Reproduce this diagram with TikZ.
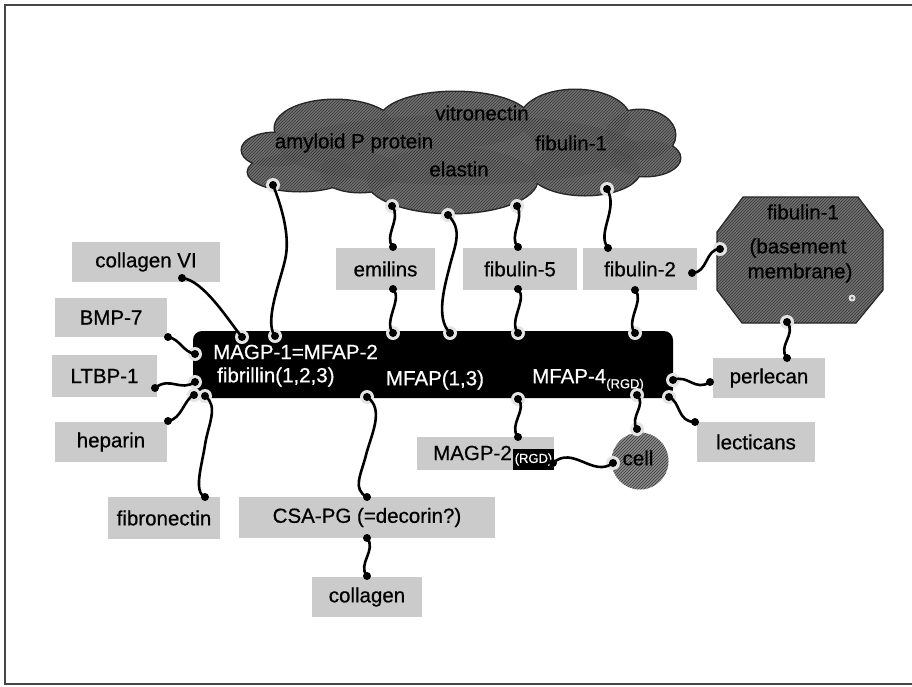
\documentclass[tikz,border=0pt]{standalone}
\usepackage{fontspec}
\setmainfont{Liberation Sans}[FakeBold=0.6]
\newfontfamily\heavyfont{Liberation Sans}[FakeBold=0.6]
\usetikzlibrary{patterns}
\definecolor{boxgray}{RGB}{203,203,203}
\definecolor{cloudgray}{RGB}{112,112,112}
\definecolor{cellgray}{RGB}{140,140,140}
\definecolor{hatchgray}{RGB}{55,55,55}
\definecolor{halogray}{RGB}{228,228,228}
\definecolor{framegray}{RGB}{70,70,70}
\newcommand{\bfs}{\heavyfont\fontsize{20.5}{24}\selectfont}
\newcommand{\sfs}{\heavyfont\fontsize{13}{14}\selectfont}
\begin{document}
\begin{tikzpicture}[x=1pt,y=-1pt,
  box/.style={fill=boxgray, inner sep=0pt, font=\bfs},
  txt/.style={inner sep=0pt, font=\bfs},
  wtxt/.style={inner sep=0pt, font=\bfs, text=white},
  conn/.style={line width=2.6pt},
  hatch/.style={preaction={fill=cloudgray}, pattern=north east lines, pattern color=hatchgray},
  cellhatch/.style={preaction={fill=cellgray}, pattern=north east lines, pattern color=hatchgray},
]
\useasboundingbox (0,0) rectangle (912,686);
\fill[white] (0,0) rectangle (912,686);
% frame
\draw[framegray, line width=1.5pt] (912,5) -- (5,5) -- (5,684) -- (912,684);

% cloud
\def\cloudlist{275/150/33/17, 300/172/52/19, 335/128/60/28, 455/120/75/28, 575/120/55/30, 640/135/35/25, 645/158/35/18, 585/170/55/25, 452/180/85/33, 360/172/40/20, 460/150/180/35}
\foreach \cx/\cy/\ra/\rb in \cloudlist {
  \draw[black!85, line width=3pt] (\cx,\cy) ellipse ({\ra} and {\rb});
}
\foreach \cx/\cy/\ra/\rb in \cloudlist {
  \fill[cloudgray] (\cx,\cy) ellipse ({\ra} and {\rb});
}
\foreach \cx/\cy/\ra/\rb in \cloudlist {
  \fill[pattern=north east lines, pattern color=hatchgray] (\cx,\cy) ellipse ({\ra} and {\rb});
}
\node[txt] (vitro) at (482,113) {vitronectin};
\node[txt] (amyl) at (354,143) {amyloid P protein};
\node[txt] (fibone) at (571,143) {fibulin-1};
\node[txt] (elast) at (459,169) {elastin};

% octagon
\draw[hatch, draw=black!85, line width=1.2pt] (743,197) -- (858,197) -- (883,230) -- (883,290) -- (856,323) -- (742,323) -- (717,290) -- (717,232) -- cycle;
\node[txt] (octa) at (803,212) {fibulin-1};
\node[txt] (octb) at (798,248) {(basement};
\node[txt] (octc) at (800,273) {membrane)};
\fill[halogray] (852,298) circle (3.5);
\fill[cloudgray] (852,298) circle (1.5);

% bar
\node[fill=black, rounded corners=9pt, minimum width=480pt, minimum height=67pt, inner sep=0pt] (bar) at (433,364.5) {};
\node[wtxt, anchor=west] (magpone) at (213,352) {MAGP-1=MFAP-2};
\node[wtxt, anchor=west] (fibrl) at (217,377) {fibrillin(1,2,3)};
\node[wtxt] (mfap) at (435,380) {MFAP(1,3)};
\node[wtxt, anchor=west] (mfapfour) at (532,380) {MFAP-4\raisebox{-5pt}{\sfs(RGD)}};

% boxes
\node[box, minimum width=148pt, minimum height=40pt] (colVI) at (146,262) {collagen VI};
\node[box, minimum width=112pt, minimum height=39pt] (bmp) at (111,317.5) {BMP-7};
\node[box, minimum width=105pt, minimum height=42pt] (ltbp) at (104.5,376) {LTBP-1};
\node[box, minimum width=112pt, minimum height=40pt] (hep) at (111,442) {heparin};
\node[box, minimum width=112pt, minimum height=42pt] (fn) at (164,518) {fibronectin};
\node[box, minimum width=256pt, minimum height=41pt] (csa) at (367,517.5) {CSA-PG (=decorin?)};
\node[box, minimum width=110pt, minimum height=40pt] (coll) at (367,597) {collagen};
\node[box, minimum width=99pt, minimum height=42pt] (emil) at (385.5,269) {emilins};
\node[box, minimum width=114pt, minimum height=42pt] (fibfive) at (520,269) {fibulin-5};
\node[box, minimum width=114pt, minimum height=42pt] (fibtwo) at (640,269) {fibulin-2};
\node[box, minimum width=112pt, minimum height=40pt] (perl) at (769,378) {perlecan};
\node[box, minimum width=118pt, minimum height=40pt] (lect) at (756,442) {lecticans};
\node[box, minimum width=137pt, minimum height=33pt] (magptwo) at (485.5,453.5) {};
\node[txt, anchor=west] (magptxt) at (433,453) {MAGP-2};
\node[fill=black, text=white, font=\sfs, minimum width=41pt, minimum height=21pt, inner sep=0pt] (rgd) at (533.5,459.5) {(RGD)};

% cell
\node[circle, cellhatch, minimum size=57pt, inner sep=0pt] (cell) at (640,461) {};
\node[txt, text=black] (celltxt) at (638,458) {cell};

% dot coordinates
\coordinate (cA) at (273,185);   \coordinate (bA) at (275,336);
\coordinate (bC6) at (242,337);  \coordinate (pC6) at (182,278);
\coordinate (pB7) at (168,337);  \coordinate (bB7) at (195,354);
\coordinate (pLT) at (155,388);  \coordinate (bLT) at (195,382);
\coordinate (pHe) at (168,421);  \coordinate (bHe) at (194,395);
\coordinate (bFn) at (205,396);  \coordinate (pFn) at (205,497);
\coordinate (cEm) at (392,206);  \coordinate (pEmT) at (393,247);
\coordinate (pEmB) at (393,289); \coordinate (bEm) at (393,333);
\coordinate (cEl) at (448,215);  \coordinate (bEl) at (450,333);
\coordinate (cF5) at (517,206);  \coordinate (pF5T) at (518,247);
\coordinate (pF5B) at (518,289); \coordinate (bF5) at (518,333);
\coordinate (cF2) at (607,189);  \coordinate (pF2T) at (608,248);
\coordinate (pF2B) at (635,290); \coordinate (bF2) at (635,333);
\coordinate (pF2R) at (692,273); \coordinate (oL) at (720,249);
\coordinate (oB) at (787,322);   \coordinate (pPeT) at (787,358);
\coordinate (pPeL) at (710,382); \coordinate (bPe) at (673,380);
\coordinate (pLe) at (695,422);  \coordinate (bLe) at (669,397);
\coordinate (bCe) at (637,395);  \coordinate (ceT) at (637,429);
\coordinate (bMa) at (518,399);  \coordinate (pMaT) at (518,437);
\coordinate (pMaR) at (553,463); \coordinate (ceL) at (613,463);
\coordinate (bCs) at (367,397);  \coordinate (pCsT) at (367,497);
\coordinate (pCsB) at (367,538); \coordinate (pCoT) at (367,576);

% halos
\foreach \p in {cA,bA,bC6,bB7,bLT,bHe,bFn,cEm,bEm,cEl,bEl,cF5,bF5,cF2,bF2,oL,oB,bPe,bLe,bCe,ceT,bMa,ceL,bCs}
  \fill[halogray] (\p) circle (7);

% connectors
\draw[conn] (cA) .. controls +(10,25) and +(3,-20) .. (286,255) .. controls +(-3,20) and +(-12,-15) .. (bA);
\draw[conn] (pC6) .. controls +(22,2) and +(-12,-14) .. (bC6);
\draw[conn] (pB7) .. controls +(12,2) and +(-12,-2) .. (bB7);
\draw[conn] (pLT) .. controls +(15,-12) and +(-15,10) .. (bLT);
\draw[conn] (pHe) .. controls +(14,-2) and +(-10,4) .. (bHe);
\draw[conn] (bFn) .. controls +(14,10) and +(3,-20) .. (205,445) .. controls +(-3,20) and +(-12,-5) .. (pFn);
\draw[conn] (cEm) .. controls +(10,12) and +(-10,-10) .. (pEmT);
\draw[conn] (pEmB) .. controls +(10,10) and +(-10,-12) .. (bEm);
\draw[conn] (cEl) .. controls +(15,15) and +(5,-20) .. (450,265) .. controls +(-5,20) and +(-15,-15) .. (bEl);
\draw[conn] (cF5) .. controls +(8,12) and +(-10,-10) .. (pF5T);
\draw[conn] (pF5B) .. controls +(10,10) and +(-10,-12) .. (bF5);
\draw[conn] (cF2) .. controls +(12,20) and +(-12,-15) .. (pF2T);
\draw[conn] (pF2B) .. controls +(10,10) and +(-10,-12) .. (bF2);
\draw[conn] (pF2R) .. controls +(16,0) and +(-15,0) .. (oL);
\draw[conn] (oB) .. controls +(10,12) and +(-10,-12) .. (pPeT);
\draw[conn] (pPeL) .. controls +(-15,10) and +(15,-6) .. (bPe);
\draw[conn] (pLe) .. controls +(-18,0) and +(12,5) .. (bLe);
\draw[conn] (bCe) .. controls +(10,10) and +(-8,-12) .. (ceT);
\draw[conn] (bMa) .. controls +(10,10) and +(-10,-12) .. (pMaT);
\draw[conn] (pMaR) .. controls +(20,-18) and +(-20,15) .. (ceL);
\draw[conn] (bCs) .. controls +(18,12) and +(5,-20) .. (366,455) .. controls +(-5,20) and +(-15,-8) .. (pCsT);
\draw[conn] (pCsB) .. controls +(10,12) and +(-10,-12) .. (pCoT);

% dots
\foreach \p in {cA,bA,bC6,pC6,pB7,bB7,pLT,bLT,pHe,bHe,bFn,pFn,cEm,pEmT,pEmB,bEm,cEl,bEl,cF5,pF5T,pF5B,bF5,cF2,pF2T,pF2B,bF2,pF2R,oL,oB,pPeT,pPeL,bPe,pLe,bLe,bCe,ceT,bMa,pMaT,pMaR,ceL,bCs,pCsT,pCsB,pCoT}
  \fill[black] (\p) circle (4);
\end{tikzpicture}
\end{document}
